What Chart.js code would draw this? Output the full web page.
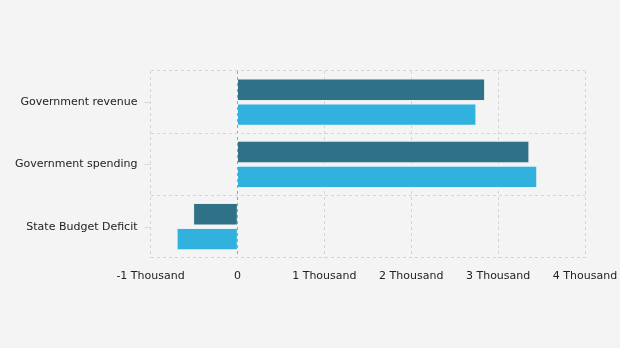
<!DOCTYPE html>
<html>
<head>
<meta charset="utf-8">
<script src="https://cdn.jsdelivr.net/npm/chart.js@4"></script>
<style>
  html, body { margin: 0; padding: 0; background: #f4f4f4; }
  #wrap { width: 620px; height: 348px; position: relative; }
</style>
</head>
<body>
<div id="wrap"><canvas id="budget-chart"></canvas></div>
<script>
var categories = ['Government revenue', 'Government spending', 'State Budget Deficit'];
var seriesDark = [2850, 3360, -510];
var seriesLight = [2750, 3450, -700];
var xTicks = [-1000, 0, 1000, 2000, 3000, 4000];

function tickLabel(v) {
    if (v === 0) return '0';
    return (v / 1000) + ' Thousand';
}

// small tick marks at the category centres (grid lines sit on the boundaries)
var centreTicks = {
    id: 'centreTicks',
    afterDraw: function(chart) {
        var y = chart.scales.y;
        var c = chart.ctx;
        c.save();
        c.strokeStyle = '#d9d9d9';
        c.lineWidth = 1;
        for (var i = 0; i < categories.length; i++) {
            var py = Math.round(y.getPixelForValue(i)) + 0.5;
            c.beginPath();
            c.moveTo(y.right - 6, py);
            c.lineTo(y.right, py);
            c.stroke();
        }
        c.restore();
    }
};

var ctx = document.getElementById('budget-chart').getContext('2d');
var myChart = new Chart(ctx, {
    type: 'bar',
    data: {
        labels: categories,
        datasets: [{
            label: 'Series 1',
            data: seriesDark,
            backgroundColor: '#2f7287',
            borderColor: '#e8eef1',
            borderWidth: 1,
            categoryPercentage: 0.8,
            barPercentage: 0.9
        }, {
            label: 'Series 2',
            data: seriesLight,
            backgroundColor: '#31b2de',
            borderColor: '#e8f2f6',
            borderWidth: 1,
            categoryPercentage: 0.8,
            barPercentage: 0.9
        }]
    },
    options: {
        indexAxis: 'y',
        responsive: true,
        maintainAspectRatio: false,
        animation: false,
        layout: { padding: { top: 71, right: 2, bottom: 53, left: 2 } },
        plugins: {
            legend: { display: false },
            tooltip: { enabled: false }
        },
        scales: {
            x: {
                min: -1000,
                max: 4000,
                afterBuildTicks: function(scale) {
                    scale.ticks = xTicks.map(function(v) { return { value: v }; });
                },
                afterFit: function(scale) {
                    scale.paddingRight = 35;
                },
                border: { display: false, dash: [3, 3] },
                grid: {
                    color: function(c) { return c.tick && c.tick.value === 0 ? '#a0a0a0' : '#d4d4d4'; },
                    lineWidth: 1,
                    drawTicks: false
                },
                ticks: {
                    color: '#222',
                    padding: 12,
                    maxRotation: 0,
                    font: { family: 'DejaVu Sans', size: 11 },
                    callback: function(v) { return tickLabel(v); }
                }
            },
            y: {
                border: { display: false, dash: [3, 3] },
                grid: {
                    color: '#d4d4d4',
                    lineWidth: 1,
                    offset: true,
                    drawTicks: false
                },
                ticks: {
                    color: '#222',
                    padding: 13,
                    font: { family: 'DejaVu Sans', size: 11 }
                }
            }
        }
    },
    plugins: [centreTicks]
});
</script>
</body>
</html>
